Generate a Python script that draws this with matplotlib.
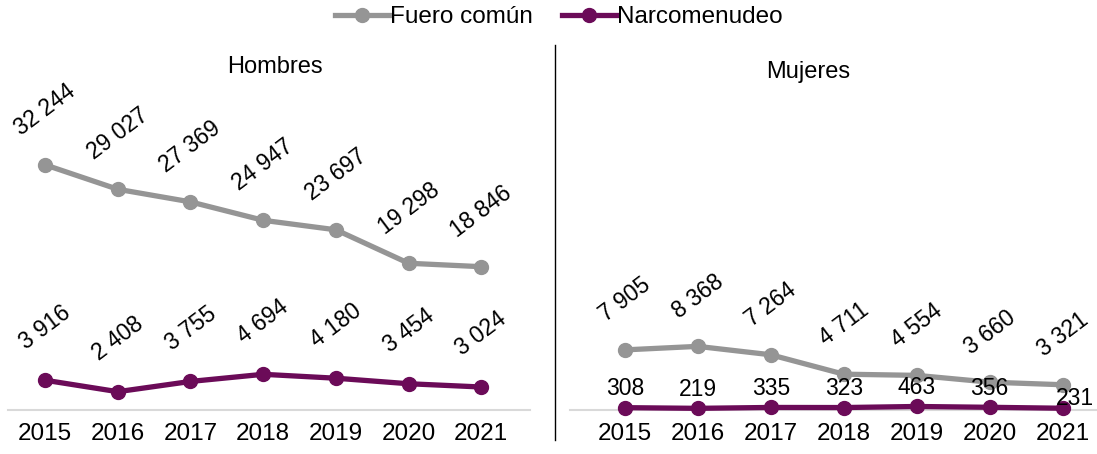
import matplotlib
matplotlib.use("Agg")
import matplotlib.pyplot as plt
from matplotlib.lines import Line2D

plt.rcParams['font.family'] = ['Liberation Sans', 'DejaVu Sans']

years = ['2015', '2016', '2017', '2018', '2019', '2020', '2021']
hombres_fuero = [32244, 29027, 27369, 24947, 23697, 19298, 18846]
hombres_narco = [3916, 2408, 3755, 4694, 4180, 3454, 3024]
mujeres_fuero = [7905, 8368, 7264, 4711, 4554, 3660, 3321]
mujeres_narco = [308, 219, 335, 323, 463, 356, 231]

def fmt(v):
    return f"{v:,}".replace(",", " ")

GRAY = '#959595'
PURPLE = '#6b0b58'
W, H = 1097, 454
fig = plt.figure(figsize=(W / 100, H / 100), dpi=100)

def px_axes(x0, x1, ytop, ybot):
    return fig.add_axes([x0 / W, (H - ybot) / H, (x1 - x0) / W, (ybot - ytop) / H])

FS_TICK = 17.5
FS_LAB = 16.5
FS_TITLE = 17
ROT = 37

def setup(ax, xlim):
    ax.set_xlim(*xlim)
    ax.set_ylim(0, 48000)
    for s in ['top', 'right', 'left']:
        ax.spines[s].set_visible(False)
    ax.spines['bottom'].set_color('#d9d9d9')
    ax.spines['bottom'].set_linewidth(1.5)
    ax.set_yticks([])
    ax.set_xticks(range(len(years)))
    ax.set_xticklabels(years, fontsize=FS_TICK)
    ax.tick_params(axis='x', length=0, pad=9)
    ax.set_facecolor('none')

x = list(range(len(years)))

# Left panel: Hombres
axL = px_axes(8, 530, 45, 410)
setup(axL, (-0.51, 6.67))
axL.plot(x, hombres_fuero, color=GRAY, lw=3.8, marker='o', ms=10, clip_on=False, zorder=3)
axL.plot(x, hombres_narco, color=PURPLE, lw=3.8, marker='o', ms=10, clip_on=False, zorder=3)
for i, v in enumerate(hombres_fuero):
    axL.annotate(fmt(v), (i, v), xytext=(0, 55), textcoords='offset pixels',
                 ha='center', va='center', rotation=ROT, fontsize=FS_LAB)
for i, v in enumerate(hombres_narco):
    axL.annotate(fmt(v), (i, v), xytext=(0, 53), textcoords='offset pixels',
                 ha='center', va='center', rotation=ROT, fontsize=FS_LAB)
fig.text(275 / W, 1 - 67 / H, 'Hombres', ha='center', va='center', fontsize=FS_TITLE)

# Right panel: Mujeres
axR = px_axes(570, 1097, 45, 410)
setup(axR, (-0.75, 6.47))
axR.plot(x, mujeres_fuero, color=GRAY, lw=3.8, marker='o', ms=10, clip_on=False, zorder=3)
axR.plot(x, mujeres_narco, color=PURPLE, lw=3.8, marker='o', ms=10, clip_on=False, zorder=3)
for i, v in enumerate(mujeres_fuero):
    axR.annotate(fmt(v), (i, v), xytext=(0, 50), textcoords='offset pixels',
                 ha='center', va='center', rotation=ROT, fontsize=FS_LAB)
for i, v in enumerate(mujeres_narco):
    off = (12, 10) if i == len(mujeres_narco) - 1 else (0, 19)
    axR.annotate(fmt(v), (i, v), xytext=off, textcoords='offset pixels',
                 ha='center', va='center', fontsize=FS_LAB, zorder=5)
fig.text(808 / W, 1 - 72 / H, 'Mujeres', ha='center', va='center', fontsize=FS_TITLE)

# divider
fig.add_artist(Line2D([555 / W, 555 / W], [1 - 45 / H, 1 - 440 / H], color='black', lw=1))

# legend
handles = [Line2D([], [], color=GRAY, lw=3.8, marker='o', ms=10),
           Line2D([], [], color=PURPLE, lw=3.8, marker='o', ms=10)]
fig.legend(handles, ['Fuero común', 'Narcomenudeo'], loc='center',
           bbox_to_anchor=(559 / W, 1 - 17 / H), ncol=2, frameon=False,
           fontsize=FS_TICK, handlelength=2.2, handletextpad=0.05, columnspacing=1.2,
           borderpad=0.1)

fig.savefig('out.png', dpi=100)
